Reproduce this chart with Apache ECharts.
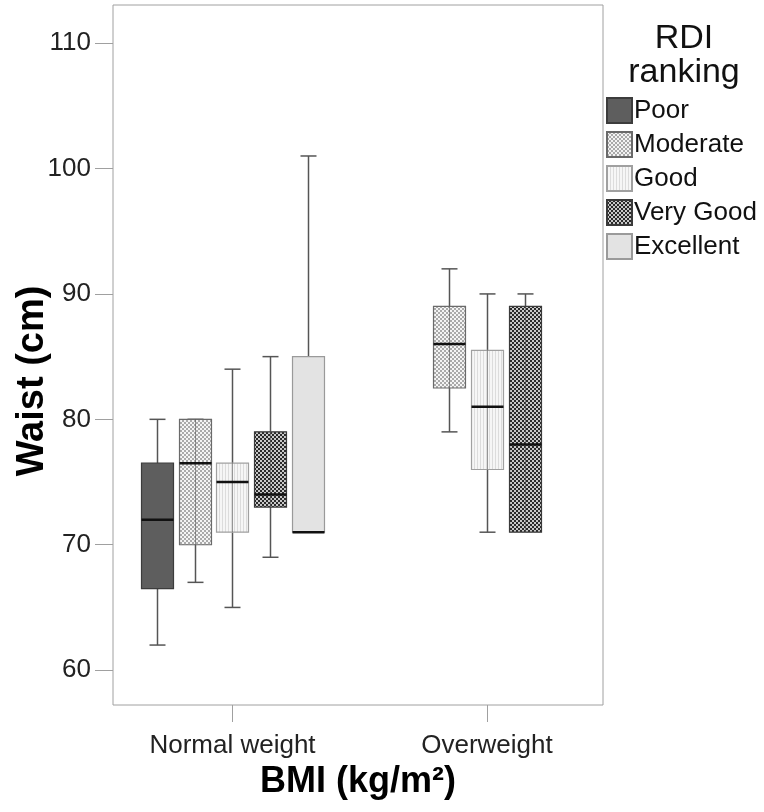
<!DOCTYPE html>
<html><head><meta charset="utf-8">
<script src="https://cdn.jsdelivr.net/npm/echarts@6/dist/echarts.min.js"></script>
<style>html,body{margin:0;padding:0;background:#fff}#c{width:764px;height:812px}</style>
</head><body><div id="c"></div>
<script>
// ---- data ----
const categories = ['Normal weight', 'Overweight'];
const rankings = ['Poor', 'Moderate', 'Good', 'Very Good', 'Excellent'];
// [min, Q1, median, Q3, max] per BMI category; null = no box
const poor      = [[62, 66.5, 72, 76.5, 80], null];
const moderate  = [[67, 70, 76.5, 80, 80], [79, 82.5, 86, 89, 92]];
const good      = [[65, 71, 75, 76.5, 84], [71, 76, 81, 85.5, 90]];
const veryGood  = [[69, 73, 74, 79, 85], [71, 71, 78, 89, 90]];
const excellent = [[71, 71, 71, 85, 101], null];
const yTicks = [60, 70, 80, 90, 100, 110];
const xTicks = [0, 1];

// ---- styles ----
function tile(w, h, draw) {
  const c = document.createElement('canvas');
  c.width = w; c.height = h;
  draw(c.getContext('2d'));
  return { image: c, repeat: 'repeat' };
}
function checker(light, dark) {
  return tile(4, 4, g => {
    g.fillStyle = dark; g.fillRect(0, 0, 4, 4);
    g.fillStyle = light; g.fillRect(0, 0, 2, 2); g.fillRect(2, 2, 2, 2);
  });
}
const fills = [
  '#5e5e5e',
  checker('#f4f4f4', '#aaaaaa'),
  tile(3, 1, g => { g.fillStyle = '#f6f6f6'; g.fillRect(0, 0, 3, 1); g.fillStyle = '#dcdcdc'; g.fillRect(0, 0, 1, 1); }),
  checker('#c8c8c8', '#2a2a2a'),
  '#e3e3e3'
];
const borders = ['#3c3c3c', '#6a6a6a', '#a0a0a0', '#3a3a3a', '#9a9a9a'];
const through = [false, true, true, true, false];
const seriesData = [poor, moderate, good, veryGood, excellent];

function makeRender(slot) {
  return function (params, api) {
    const cat = api.value(0);
    const unit = api.size([1, 0])[0];
    const off = (slot - 2) * unit * 0.148;
    const hw = unit * 0.1257 / 2;
    const pMin = api.coord([cat, api.value(1)]);
    const pQ1 = api.coord([cat, api.value(2)]);
    const pMed = api.coord([cat, api.value(3)]);
    const pQ3 = api.coord([cat, api.value(4)]);
    const pMax = api.coord([cat, api.value(5)]);
    const x = Math.round(pMin[0] + off) + 0.5;
    const wStyle = { stroke: '#555', lineWidth: 1.5 };
    const children = [];
    if (pMax[1] < pQ3[1]) {
      children.push({ type: 'line', shape: { x1: x, y1: pMax[1], x2: x, y2: pQ3[1] }, style: wStyle });
    }
    children.push({ type: 'line', shape: { x1: x - hw / 2, y1: pMax[1], x2: x + hw / 2, y2: pMax[1] }, style: wStyle });
    if (pMin[1] > pQ1[1]) {
      children.push({ type: 'line', shape: { x1: x, y1: pQ1[1], x2: x, y2: pMin[1] }, style: wStyle });
      children.push({ type: 'line', shape: { x1: x - hw / 2, y1: pMin[1], x2: x + hw / 2, y2: pMin[1] }, style: wStyle });
    }
    children.push({ type: 'rect', shape: { x: x - hw, y: pQ3[1], width: hw * 2, height: pQ1[1] - pQ3[1] },
      style: { fill: fills[slot], stroke: borders[slot], lineWidth: 1.2 } });
    if (through[slot]) {
      children.push({ type: 'line', shape: { x1: x, y1: pQ3[1], x2: x, y2: pQ1[1] }, style: { stroke: '#555', lineWidth: 1, opacity: 0.6 } });
    }
    children.push({ type: 'line', shape: { x1: x - hw, y1: pMed[1], x2: x + hw, y2: pMed[1] }, style: { stroke: '#111', lineWidth: 2.5 } });
    return { type: 'group', children: children };
  };
}

const series = rankings.map((name, s) => ({
  name: name,
  type: 'custom',
  renderItem: makeRender(s),
  itemStyle: { color: fills[s], borderColor: borders[s], borderWidth: 1.2 },
  encode: { x: 0, y: [1, 2, 3, 4, 5] },
  data: seriesData[s].map((v, i) => v ? [i].concat(v) : null).filter(d => d)
}));

const FONT = 'Liberation Sans, Arial, sans-serif';
const chart = echarts.init(document.getElementById('c'), null, { renderer: 'canvas' });
chart.setOption({
  animation: false,
  backgroundColor: '#fff',
  grid: { left: 113, top: 5, width: 490, height: 700, show: true, borderColor: '#a0a0a0', borderWidth: 1, backgroundColor: 'transparent' },
  xAxis: {
    type: 'value', min: -0.4695, max: 1.4558,
    axisLine: { show: false, onZero: false }, splitLine: { show: false },
    axisTick: { show: true, customValues: xTicks, length: 17, lineStyle: { color: '#a0a0a0' } },
    axisLabel: { customValues: xTicks, formatter: v => categories[Math.round(v)], fontSize: 26, color: '#222', fontFamily: FONT, margin: 28 },
    name: 'BMI (kg/m²)', nameLocation: 'middle', nameGap: 58,
    nameTextStyle: { fontSize: 36, fontWeight: 'bold', color: '#000', fontFamily: FONT }
  },
  yAxis: {
    type: 'value', min: 57.22, max: 113.04,
    axisLine: { show: false, onZero: false }, splitLine: { show: false },
    axisTick: { show: true, customValues: yTicks, length: 18, lineStyle: { color: '#a0a0a0' } },
    axisLabel: { customValues: yTicks, fontSize: 26, color: '#222', fontFamily: FONT, margin: 22 }
  },
  legend: {
    data: rankings, orient: 'vertical', left: 606, top: 97, padding: 0,
    itemWidth: 25, itemHeight: 25, itemGap: 7, icon: 'rect',
    textStyle: { fontSize: 26, color: '#111', fontFamily: FONT, padding: [0, 0, 0, -3] },
    selectedMode: false
  },
  graphic: [{
    type: 'text', x: 684, y: 22,
    style: { text: 'RDI\nranking', fontSize: 34, lineHeight: 34, fontFamily: FONT, fill: '#111', align: 'center' }
  }, {
    type: 'text', x: 14, y: 381, rotation: Math.PI / 2,
    style: { text: 'Waist (cm)', fontSize: 38, fontWeight: 'bold', fontFamily: FONT, fill: '#000', align: 'center', verticalAlign: 'top' }
  }],
  series: series
});
</script></body></html>
